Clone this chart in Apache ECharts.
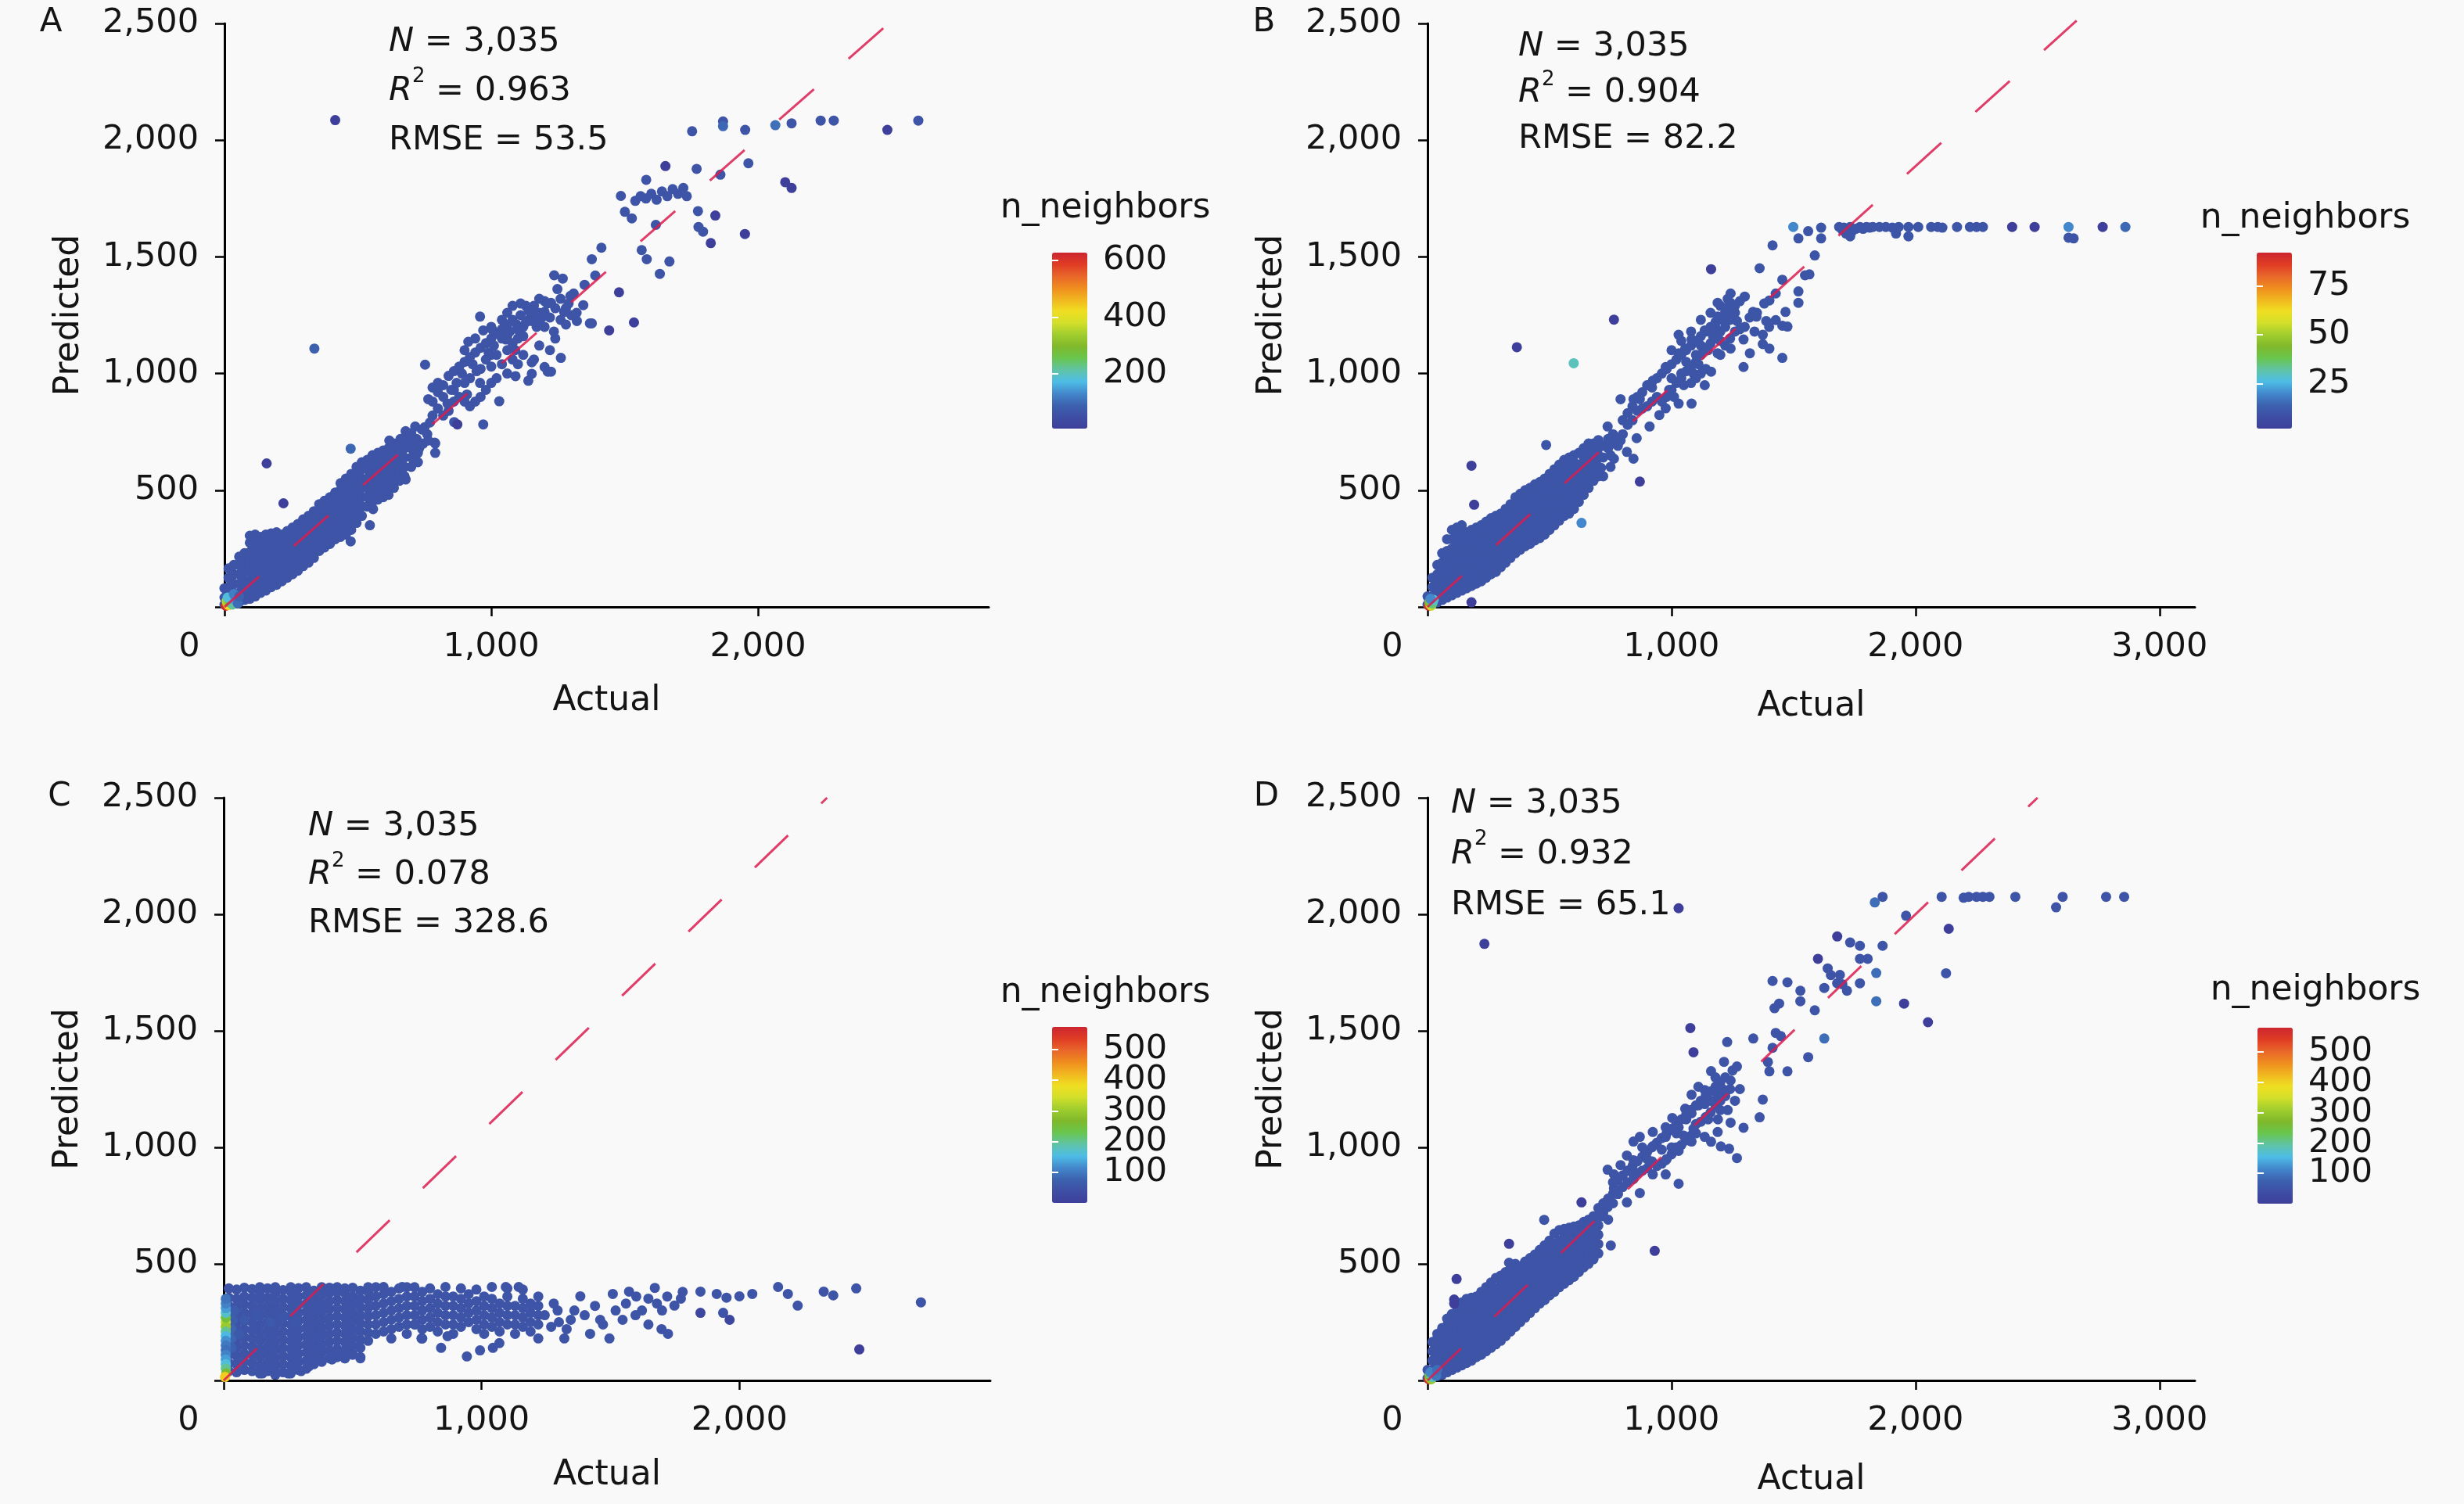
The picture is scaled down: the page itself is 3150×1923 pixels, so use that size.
<!DOCTYPE html>
<html><head><meta charset="utf-8">
<script src="https://cdn.jsdelivr.net/npm/echarts@6/dist/echarts.min.js"></script>
<style>html,body{margin:0;padding:0;background:#f9f9f9}#c{width:3150px;height:1923px}</style>
</head><body><div id="c"></div>
<script>
// ---------------- DATA ----------------
const panelLetters = ['A','B','C','D'];
const statsN = ['3,035','3,035','3,035','3,035'];
const statsR2 = ['0.963','0.904','0.078','0.932'];
const statsRMSE = ['53.5','82.2','328.6','65.1'];
const xMaxes = [2865, 3145, 2973, 3145];
const yMax = 2500;
const xTicksA = [0,1000,2000];
const xTicksB = [0,1000,2000,3000];
const yTicks = [0,500,1000,1500,2000,2500];
const yLabels = [500,1000,1500,2000,2500];
const nnRanges = [[7,628],[2,92],[0,574],[0,580]];
const nnTicksA = [200,400,600];
const nnTicksB = [25,50,75];
const nnTicksCD = [100,200,300,400,500];
const nnDefault = [61,10,50,50];
// reference (dashed) line end points
const refA = [[0,0],[2490,2500]];
const refB = [[0,0],[2660,2512]];
const refC = [[0,0],[2340,2500]];
const refD = [[0,0],[2500,2500]];

// Panel A: dense band rows [actual, predicted...]
const aBand = [
[0,10,40,80],[15,10,45,85,125,165],[35,20,60,100,140,180],[55,20,60,100,140,180,215],
[75,30,70,110,150,190,230],[95,35,75,115,155,195,235,275,305],[115,45,85,125,165,205,245,285,310],
[135,60,100,140,180,220,260,300],[155,70,110,150,190,230,270,310],[175,85,125,165,205,245,285,315],
[195,95,135,175,215,255,295,320],[215,110,150,190,230,270,310],[235,125,165,205,245,285,325],
[255,140,180,220,260,300,340],[275,155,195,235,275,315,355],[295,175,215,255,295,335,375],
[315,190,230,270,310,350,390],[335,210,250,290,330,370,410],[355,240,280,320,360,400,440],
[375,255,295,335,375,415,455],[395,270,310,350,390,430,470],[415,290,330,370,410,450,490],
[435,300,340,380,420,460,500,530],[455,310,350,390,430,470,510,550],[475,330,370,410,450,490,530,570],
[495,360,400,440,480,520,560,600],[515,390,430,470,510,550,590,620],[535,430,470,510,550,590,630],
[555,450,490,530,570,610,650],[575,460,500,540,580,620,660],[595,470,510,550,590,630,670],
[615,480,520,560,600,640,680],[635,510,550,590,630,670,700],[655,540,580,620,660,700],
[675,560,600,640,680,720],[700,600,640,680,720],[725,620,660,700]
];
// Panel A: individual points [actual, predicted, (n_neighbors)]
const aPts = [
[745,700],[760,740],[790,660],[790,700],[613,635],[630,537],[679,546],[545,350],[557,419],[473,281],
[618,713],[679,753],[715,773],[788,704],[764,713],[740,760],[700,745],
[752,1038],[764,890],[780,940],[800,920],[820,900],[836,871],[850,930],[861,792],[870,960],[890,1000],
[909,910],[914,1136],[920,980],[930,1040],[945,1010],[958,960],[970,782],[980,1060],[990,1090],[1000,1030],
[1010,1120],[1020,1080],[1030,881],[1040,1150],[1055,1146],[1060,1100],[1070,1180],[1080,1130],[1091,989],
[1095,1210],[1103,1185],[1110,1250],[1120,1160],[1130,1220],[1139,969],[1140,1270],[1152,999],[1152,1048],
[1152,1225],[1160,1290],[1170,1200],[1180,1260],[1190,1240],[1200,1028],[1200,1264],[1210,1300],[1224,1008],
[1224,1303],[1235,1180],[1248,1362],[1261,1067],[1273,1264],[1280,1210],[1290,1300],[1309,1343],[1320,1260],
[1345,1293],[1370,1215],[958,1244],[970,1185],[1006,1185],[900,1100],[940,1150],[1000,1200],[1040,1230],
[1060,1260],[1080,1290],[873,782,7],[1212,1008],
[1377,1490],[1413,1539],[1479,1348,7],[1442,1185,7],[1535,1219,7],[1236,1421],[1268,1407],[1297,1333],
[1321,1225],[1377,1215],[1350,1380],[1390,1420],[1486,1761],[1501,1693],[1527,1665],[1540,1740],[1560,1760],
[1580,1750],[1600,1770],[1620,1745],[1640,1780],[1660,1760],[1680,1790],[1700,1770],[1720,1795],[1733,1760],
[1581,1830],[1653,1889,7],[1770,1877],[1775,1696],[1840,1677,7],[1777,1628],[1794,1608],[1823,1559,7],
[1951,1598,7],[1617,1637],[1564,1529],[1583,1490],[1632,1427],[1668,1480],[1859,1852],[1964,1901],
[2102,1820,7],[2126,1795,7],
[415,2086,7],[1753,2038],[1869,2080],[1869,2060,95],[1952,2044],[2065,2064,105],[2126,2072],[2235,2084],
[2284,2084],[2485,2044,7],[2601,2084],
[337,1107,85],[158,615,7],[221,444,7],[473,678,95],
[5,5,620],[10,15,500],[15,8,420],[8,25,350],[20,20,300],[25,35,250],[30,10,220],[12,40,180],[40,30,150],
[35,55,120],[50,15,100],[55,45,90]
];
// Panel A: extra points filling the 750-1350 block
const aFill = [
[780,880],[800,960],[820,950],[840,990],[860,1010],[880,1030],[900,1050],[920,1070],[940,1090],[960,1110],
[980,1130],[1000,1150],[1020,1170],[1040,1190],[1060,1210],[1080,1230],[1100,1150],[1120,1200],[1140,1230],
[1160,1250],[1180,1220],[1200,1200],[1220,1240],[1240,1280],[1260,1320],[1280,1280],[1300,1250],[1260,1230],
[1240,1150],[1220,1100],[1180,1120],[1160,1060],[1120,1080],[1100,1040],[1080,1060],[1060,1000],[1040,1040],
[1020,980],[1000,960],[980,930],[960,900],[940,880],[920,860],[900,880],[880,900],[860,880],[840,840],
[820,820],[800,850],[780,820],[1130,1290],[1110,1300],[1180,1320],[1200,1310],[1060,1160],[1090,1100],
[1000,1080],[960,1020],[900,960],[860,930],[720,720],[730,680],[750,770],[770,790],[700,700],[660,720]
];

// Panel B
const bBand = [
[0,10,45],[20,10,45,85,125],[40,20,60,100,140,180],[60,30,70,110,150,190,230],
[80,40,80,120,160,200,240,290],[100,50,90,130,170,210,250,290,330],[120,60,100,140,180,220,260,300,340],
[140,70,110,150,190,230,270,310,350],[160,80,120,160,200,240,280,320],[180,90,130,170,210,250,290,330],
[200,100,140,180,220,260,300,340],[220,110,150,190,230,270,310,350],[240,125,165,205,245,285,325,365],
[260,140,180,220,260,300,340,380],[280,150,190,230,270,310,350,390],[300,170,210,250,290,330,370,400],
[320,190,230,270,310,350,390,420],[340,210,250,290,330,370,410,440],[360,230,270,310,350,390,430,470],
[380,245,285,325,365,405,445,485],[400,260,300,340,380,420,460,500],[420,270,310,350,390,430,470,510],
[440,285,325,365,405,445,485,525],[460,295,335,375,415,455,495,535],[480,310,350,390,430,470,510,550],
[500,330,370,410,450,490,530,570],[520,350,390,430,470,510,550,590],[540,370,410,450,490,530,570,610],
[560,390,430,470,510,550,590,630],[580,400,440,480,520,560,600,640],[600,420,460,500,540,580,620,650],
[620,450,490,530,570,610,660],[640,480,520,560,600,640,680],[660,510,550,590,630,670,700],
[680,540,580,620,660,700],[700,560,600,640,680,715]
];
const bPts = [
[180,605,2],[191,438,2],[486,694],[631,360,20],[366,1113,2],[599,1044,30],[764,1231,2],[1162,1447,2],[180,20,2],
[711,596],[764,635],[738,773],[791,713],[817,664],[844,635],[870,537,2],[720,560],[750,650],[780,690],[800,740],
[791,890],[844,890],[857,723],[870,890],[910,773],[923,969],[950,822],[976,851],[976,1028],[990,930],[1000,980],
[1010,900],[1029,871],[1029,1087],[1029,1166],[1040,1000],[1050,950],[1056,1107],[1060,1050],[1082,871],
[1082,1146],[1090,1000],[1100,1080],[1110,1040],[1120,1120],[1136,950],[1136,1185],[1150,1100],[1162,1008],
[1170,1160],[1180,1200],[1189,1087],[1189,1244],[1189,1303],[1200,1140],[1215,1225],[1220,1280],[1242,1107],
[1242,1303],[1242,1343],[1250,1240],[1268,1225],[1280,1190],[1295,1028],[1295,1146],[1321,1087],[1340,1180],
[1374,1166],[1374,1126],[1400,1200],[1427,1229],[1454,1205],[1475,1201],[1401,1107],[1454,1067],
[1334,1264],[1348,1244],[1388,1225],[1467,1264],[1401,1313],[1427,1343],[1454,1402],[1361,1451],[1520,1352],
[1520,1303],[1547,1421],[1565,1425],[1414,1549],[1587,1506],[1520,1579],[1613,1579],
[1499,1628,20],[1560,1610],[1613,1625],[1687,1628],[1700,1615],[1706,1625],[1715,1600],[1732,1628],[1740,1610],
[1755,1620],[1772,1628],[1785,1620],[1799,1628],[1812,1625],[1825,1628],[1852,1628],[1878,1628],[1905,1625],
[1920,1600],[1931,1628],[1971,1628],[1971,1588],[2011,1628],[2064,1628],[2091,1628],[2110,1625],[2170,1628],
[2223,1628],[2250,1628],[2276,1628],[2396,1628,2],[2488,1628,2],[2627,1628,20],[2648,1579],[2627,1582],
[2767,1628,2],[2860,1628,15],[1732,1588],
[5,5,90],[10,12,70],[15,5,55],[8,20,45],[20,15,35],[25,30,28],[12,35,20]
];
const bFill = [
[800,800],[820,830],[840,860],[860,900],[880,920],[900,950],[920,940],[940,980],[960,1000],[980,1020],
[1000,1040],[1020,1060],[1040,1080],[1060,1100],[1080,1120],[1100,1140],[1120,1160],[1140,1180],[1160,1200],
[1180,1220],[1200,1240],[1220,1260],[1240,1270],[1260,1290],[1280,1310],[1300,1330],[1260,1260],[1240,1230],
[1220,1200],[1200,1180],[1180,1150],[1160,1130],[1140,1110],[1120,1080],[1100,1050],[1080,1030],[1060,1010],
[1040,980],[1020,960],[1000,930],[980,900],[960,880],[940,900],[920,880],[900,860],[880,850],[860,840],
[840,800],[820,780],[1080,960],[1100,980],[1120,1000],[1140,1020],[1200,1080],[1220,1120],[1240,1150],
[1260,1180],[1300,1200],[1320,1240],[1350,1260],[1380,1300],[1000,1100],[1040,1140],[1080,1180],[1120,1230],
[1160,1260],[1200,1290],[1230,1320],
[720,640],[740,680],[760,700],[780,720],[700,650],[720,690],[740,720],[760,740],[680,620],[660,600],[700,600],[750,600]
];

// Panel C
const cBand = [
[20,40,75,110,145,180,215,250,285,320,355,395],[50,35,70,105,140,175,210,245,280,315,350,390],
[80,45,80,115,150,185,220,255,290,325,360,398],[110,40,75,110,145,180,215,250,285,320,355,392],
[140,30,65,100,135,170,205,240,275,310,345,380,400],[170,40,75,110,145,180,215,250,285,320,355,395],
[200,25,60,95,130,165,200,235,270,305,340,375,400],[230,35,70,105,140,175,210,245,280,315,350,388],
[260,30,65,100,135,170,205,240,275,310,345,380,400],[290,45,80,115,150,185,220,255,290,325,360,396],
[320,50,85,120,155,190,225,260,295,330,365,400],[350,70,105,140,175,210,245,280,315,350,385],
[380,85,120,155,190,225,260,295,330,365,400],[410,95,130,165,200,235,270,305,340,375,398],
[440,100,135,170,205,240,275,310,345,380,400],[470,95,130,165,200,235,270,305,340,375,395],
[500,115,150,185,220,255,290,325,360,398],[530,100,140,175,210,245,280,315,350,385],
[560,170,205,240,275,310,345,380,400],
[590,200,240,280,320,360,400],[620,210,250,290,330,370,401],[650,180,220,260,300,340,380],
[680,230,270,310,350,395],[710,200,240,280,320,360,400],[740,240,280,320,360,400],
[770,180,220,260,300,340,380],[800,230,270,310,350,395],[830,210,250,290,330,370],
[860,240,280,320,360,401],[890,200,240,280,320,360],[920,230,270,310,350,395],
[950,250,290,330,370],[980,220,260,300,340,390],[1010,200,240,280,320,360],
[1040,230,270,310,350,401],[1070,210,250,290,330],[1100,240,280,320,360,395],
[1130,200,240,280,320],[1160,230,270,310,350,390],[1190,210,250,290,330],[1220,240,280,320,360]
];
const cPts = [
[2704,335],[2465,133,0],[2453,395],[2327,381],[2364,365],[2226,321],[2150,401],[2188,371],[2050,371],[2000,361],
[1950,355],[1849,381],[1849,290,20],[1912,371],[1937,290],[1962,260,20],[1773,351],[1748,321],[1672,397],
[1647,351],[1622,300],[1597,280],[1698,220],[1723,200],[1647,240],[1572,381],[1509,371],[1547,260],[1471,240],
[1496,180],[1421,200],[1383,361],[1346,260],[1321,180],[1295,300],[1245,280],[1220,180],[1195,321],[1144,401],
[1094,401],[1069,160],[1044,140],[994,129],[943,103],[868,190],[843,140],[767,180],[742,240],[692,401],
[1270,230],[1280,330],[1300,250],[1330,220],[1360,300],[1400,280],[1440,320],[1460,260],[1520,300],[1560,330],
[1600,360],[1680,330],[1700,300],[1720,360],[1780,380],
[150,30],[200,25],[250,30],[300,40],[330,60],[380,80],[420,90],[470,95],[500,110],[530,95],[360,110],[440,120],
[80,260,60],[130,280,55],[180,250,60],[230,270,55],[280,250,55],[120,230,50],[200,290,50],
[30,180,80],[30,220,80],[35,260,70],[30,140,75],[40,300,65],[60,200,60],
[8,250,330],[8,230,300],[8,270,250],[8,210,200],[8,290,170],[8,190,150],[8,310,130],[8,170,120],[8,330,110],
[8,150,100],[8,350,95],[8,130,90],[8,110,110],[8,90,130],[8,70,160],[8,50,200],[10,30,260],[5,15,400]
];

// Panel D
const dBand = [
[0,10,45],[20,10,45,85,125,165],[40,20,60,100,140,180,200],[60,25,65,105,145,185,225],
[80,35,75,115,155,195,235,265],[100,45,85,125,165,205,245,285],[120,55,95,135,175,215,255,295,320],
[140,65,105,145,185,225,265,305,335],[160,75,115,155,195,235,275,315,350],[180,85,125,165,205,245,285,325,355],
[200,100,140,180,220,260,300,340,360],[220,110,150,190,230,270,310,350,380],[240,125,165,205,245,285,325,365,400],
[260,140,180,220,260,300,340,380,420],[280,155,195,235,275,315,355,395,440],[300,170,210,250,290,330,370,410,450],
[320,190,230,270,310,350,390,430,465],[340,210,250,290,330,370,410,450,480],[360,230,270,310,350,390,430,470,500],
[380,250,290,330,370,410,450,490],[400,270,310,350,390,430,470,510],[420,290,330,370,410,450,490,525],
[440,310,350,390,430,470,510,540],[460,330,370,410,450,490,530,560],[480,345,385,425,465,505,545,580],
[500,365,405,445,485,525,565,600],[520,380,420,460,500,540,580,630],[540,400,440,480,520,560,600,645],
[560,415,455,495,535,575,615,650],[580,430,470,510,550,590,630,655],[600,445,485,525,565,605,645,660],
[620,465,505,545,585,625,665],[640,485,525,565,605,645,680],[660,500,540,580,620,660,690],
[680,520,560,600,640,680,705],[700,545,585,625,665,710]
];
const dPts = [
[233,1873,0],[1029,2026,0],[1077,1512,0],[1090,1408,0],[1228,1452],[931,556,0],[478,689],[334,586,0],[334,505],
[119,435,0],[109,347,0],[109,330,0],[631,764,0],[751,579],
[1833,2051,90],[1865,2075],[1961,1994],[2107,2075],[2197,2071],[2218,2075],[2250,2075],[2276,2075],[2303,2075],
[2409,2075],[2576,2030],[2603,2075],[2781,2075],[2855,2075],[2136,1938,0],[2125,1747],[2051,1537,0],[1953,1617,0],
[1839,1627,90],[1839,1748,90],[1865,1865],[1772,1865],[1732,1879],[1679,1905,0],[1804,1809],[1772,1809],
[1772,1704],[1719,1672],[1679,1704],[1640,1768],[1653,1739],[1626,1684],[1700,1700],[1690,1740],[1587,1588],
[1600,1809,0],[1626,1467,90],[1560,1387],[1528,1672],[1528,1627],[1475,1708],[1441,1617],[1422,1597],
[1414,1714],[1427,1491],[1448,1477],[1475,1326],[1401,1326],[1395,1366],[1414,1427],[1335,1467],[1374,1205],
[1361,1129],[1268,954],[1236,994],[1295,1084],[1202,1004],[1162,1024],
[764,884],[844,945],[923,1005],[976,1045],[1029,1086],[1082,1146],[1136,1186],[1189,1226],[1242,1287],
[1268,1347],[1215,1367],[1162,1327],[1136,1246],[1082,1226],[1056,1166],[1003,1126],[976,1086],[923,1066],
[870,1045],[844,1025],[817,965],[791,924],[738,904],[764,824],[844,864],[923,884],[976,945],[1029,985],
[1082,1025],[1136,1045],[1189,1066],[1242,1106],[976,884],[1029,844],[870,804],[817,764],[738,744],[711,704],
[658,663],[1000,1000],[1050,1050],[1100,1100],[1110,1180],[1160,1200],[1200,1160],[1060,1120],[960,990],
[900,950],[880,1000],[1020,1060],[1090,1080],[1150,1120],[1210,1250],[1180,1300],[1110,1260],
[720,720],[740,690],[760,760],[780,800],[690,650],[760,850],
[5,5,560],[10,12,420],[15,5,300],[8,20,250],[20,15,180],[25,30,140],[12,35,110],[35,20,100],[40,45,90]
];
const dFill = [
[780,860],[800,880],[820,900],[840,920],[860,940],[880,960],[900,980],[920,1000],[940,1020],[960,1040],
[980,1060],[1000,1080],[1020,1100],[1040,1120],[1060,1140],[1080,1160],[1100,1180],[1120,1200],[1140,1220],
[1160,1240],[1180,1260],[1200,1280],[1220,1300],[1240,1250],[1220,1220],[1200,1200],[1180,1180],[1160,1150],
[1140,1130],[1120,1110],[1100,1060],[1080,1050],[1060,1030],[1040,1010],[1020,1000],[1000,970],[980,950],
[960,930],[940,920],[920,940],[900,910],[880,900],[860,890],[840,890],[820,850],[800,830],[780,800],
[760,800],[740,780],[720,760],[700,740],[680,700],[1250,1330],[1260,1200],[1280,1250],[1230,1160],[1190,1120]
];

// ---------------- BUILD ----------------
function buildData(rows, pts, fill, nn) {
  const out = [];
  rows.forEach(r => { for (let k = 1; k < r.length; k++) out.push([r[0], r[k], nn]); });
  fill.forEach(p => out.push([p[0], p[1], nn]));
  const normal = [], hot = [];
  pts.forEach(p => { const v = [p[0], p[1], p.length > 2 ? p[2] : nn]; (v[2] > nn ? hot : normal).push(v); });
  return out.concat(normal, hot);
}
const F = 'DejaVu Sans';
const TXT = '#141414';
const palette = ['#3d3f9a','#3e4ea4','#3c62ae','#4388cc','#4dbde6','#60c3a6','#68c64e','#7fb82a',
  '#a0cd2e','#d2df2a','#efdf22','#f1b620','#ef8c1f','#e8662a','#e03c24','#cc2630'];
const fmt = v => v.toLocaleString('en-US');

const layout = [
  {grid:[287,30,977,746], xTicks:xTicksA, xNameGap:99, yNameGap:176, bar:[1345,323], legTitle:[1413,245],
   letter:[65,8], stats:[497,22], lh:63, ref:refA, data:buildData(aBand,aPts,aFill,nnDefault[0]), nnTicks:nnTicksA},
  {grid:[1825,30,981,746], xTicks:xTicksB, xNameGap:106, yNameGap:176, bar:[2885,323], legTitle:[2947,258],
   letter:[1616,8], stats:[1941,30], lh:59, ref:refB, data:buildData(bBand,bPts,bFill,nnDefault[1]), nnTicks:nnTicksB},
  {grid:[286,1020,980,745], xTicks:xTicksA, xNameGap:100, yNameGap:176, bar:[1345,1313], legTitle:[1413,1248],
   letter:[76,998], stats:[394,1026], lh:62, ref:refC, data:buildData(cBand,cPts,[],nnDefault[2]), nnTicks:nnTicksCD},
  {grid:[1825,1020,981,745], xTicks:xTicksB, xNameGap:106, yNameGap:176, bar:[2886,1314], legTitle:[2960,1245],
   letter:[1619,998], stats:[1855,995], lh:65, ref:refD, data:buildData(dBand,dPts,dFill,nnDefault[3]), nnTicks:nnTicksCD}
];

const pGrid = [], pX = [], pY = [], lGrid = [], lX = [], lYa = [], lYb = [], lYt = [];
const series = [], visualMap = [], title = [];
layout.forEach((p, i) => {
  pGrid.push({left:p.grid[0], top:p.grid[1], width:p.grid[2], height:p.grid[3]});
  pX.push({type:'value', gridIndex:i, min:0, max:xMaxes[i], name:'Actual', nameLocation:'middle', nameGap:p.xNameGap,
    nameTextStyle:{fontFamily:F, fontSize:44, color:TXT},
    axisLine:{onZero:false, lineStyle:{color:'#000', width:3}},
    axisTick:{show:true, length:12, customValues:p.xTicks, lineStyle:{color:'#000', width:2.5}},
    axisLabel:{customValues:p.xTicks, margin:30, fontFamily:F, fontSize:43, color:TXT,
      formatter: v => v === 0 ? '{z|0}' : fmt(v),
      rich:{z:{fontFamily:F, fontSize:43, color:TXT, padding:[0,90,0,0]}}},
    splitLine:{show:false}});
  pY.push({type:'value', gridIndex:i, min:0, max:yMax, name:'Predicted', nameLocation:'middle', nameGap:p.yNameGap,
    nameTextStyle:{fontFamily:F, fontSize:44, color:TXT},
    axisLine:{onZero:false, lineStyle:{color:'#000', width:3}},
    axisTick:{show:true, length:12, customValues:yTicks, lineStyle:{color:'#000', width:2.5}},
    axisLabel:{customValues:yLabels, margin:33, fontFamily:F, fontSize:43, color:TXT, formatter: v => fmt(v)},
    splitLine:{show:false}});
  series.push({type:'scatter', xAxisIndex:i, yAxisIndex:i, data:p.data, symbol:'circle', symbolSize:13, silent:true, z:2,
    itemStyle:{opacity:1}});
  series.push({type:'line', xAxisIndex:i, yAxisIndex:i, data:p.ref, symbol:'none', silent:true, z:3, clip:false,
    lineStyle:{color:'#dc1c4f', width:3, type:[59,59], opacity:0.85}});
  visualMap.push({type:'continuous', seriesIndex:2*i, dimension:2, min:nnRanges[i][0], max:nnRanges[i][1],
    inRange:{color:palette}, orient:'vertical', left:p.bar[0], top:p.bar[1], itemWidth:45, itemHeight:225,
    calculable:false, hoverLink:false, padding:0, text:null});
  // legend tick labels through axes aligned with the colour bar (two axes so tight labels are not thinned)
  const gi = 4 + i;
  lGrid.push({left:p.bar[0], top:p.bar[1], width:45, height:225});
  lX.push({type:'value', gridIndex:gi, show:false, min:0, max:1});
  const evenT = p.nnTicks.filter((v, k) => k % 2 === 0), oddT = p.nnTicks.filter((v, k) => k % 2 === 1);
  [[lYa, evenT], [lYb, oddT]].forEach(([arr, vals]) => {
    arr.push({type:'value', gridIndex:gi, position:'right', offset:0, min:nnRanges[i][0], max:nnRanges[i][1], z:10,
      axisLine:{show:false}, axisTick:{show:false},
      axisLabel:{customValues:vals, margin:20, fontFamily:F, fontSize:43, color:TXT,
        showMinLabel:true, showMaxLabel:true},
      splitLine:{show:false}});
  });
  lYt.push({type:'value', gridIndex:gi, position:'left', min:nnRanges[i][0], max:nnRanges[i][1], z:10,
    axisLine:{show:false},
    axisTick:{show:true, inside:true, length:8, customValues:p.nnTicks, lineStyle:{color:'#ffffff', width:2}},
    axisLabel:{show:false}, splitLine:{show:false}});
  // texts
  title.push({text:panelLetters[i], left:p.letter[0], top:p.letter[1], textAlign:'center', padding:0,
    textStyle:{fontFamily:F, fontSize:42, fontWeight:'normal', color:TXT}});
  title.push({text:'{i|N} = ' + statsN[i] + '\n{i|R}{s|2} = ' + statsR2[i] + '\nRMSE = ' + statsRMSE[i],
    left:p.stats[0], top:p.stats[1], padding:0,
    textStyle:{fontFamily:F, fontSize:43, fontWeight:'normal', color:TXT, lineHeight:p.lh,
      rich:{i:{fontFamily:F, fontSize:43, fontStyle:'italic', color:TXT, lineHeight:p.lh},
            s:{fontFamily:F, fontSize:26, color:TXT, lineHeight:p.lh-11, verticalAlign:'top'}}}});
  title.push({text:'n_neighbors', left:p.legTitle[0], top:p.legTitle[1], textAlign:'center', padding:0,
    textStyle:{fontFamily:F, fontSize:44, fontWeight:'normal', color:TXT}});
});

const chart = echarts.init(document.getElementById('c'), null, {renderer:'canvas'});
chart.setOption({backgroundColor:'#f9f9f9', animation:false, title,
  grid:pGrid.concat(lGrid), xAxis:pX.concat(lX), yAxis:pY.concat(lYa, lYb, lYt), series, visualMap});
</script>
</body></html>
